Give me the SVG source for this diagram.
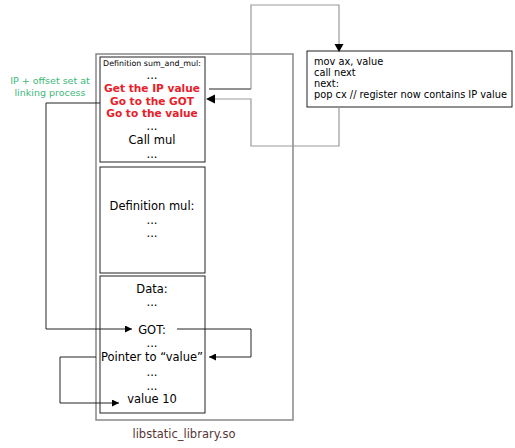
<svg xmlns="http://www.w3.org/2000/svg" width="515" height="448" viewBox="0 0 515 448">
<defs>
<marker id="arr" viewBox="0 0 10 10" refX="10" refY="5" markerWidth="9" markerHeight="7" markerUnits="userSpaceOnUse" orient="auto"><path d="M0,0 L10,5 L0,10 z" fill="#000"/></marker>
</defs>
<style>
text{font-family:"DejaVu Sans",sans-serif;fill:#000}
.box{fill:#fff;stroke:#222;stroke-width:1}
.c{text-anchor:middle;font-size:11.5px}
.red{text-anchor:middle;font-size:10.6px;font-weight:bold;fill:#e8202a}
.code{font-size:9.8px}
.ln{fill:none;stroke:#222;stroke-width:1}
.gl{fill:none;stroke:#999;stroke-width:1.2}
</style>
<rect width="515" height="448" fill="#fff"/>
<g id="library">
<rect x="96" y="54" width="197" height="366" fill="#fff" stroke="#888" stroke-width="1.5"/>
<text x="184" y="438" text-anchor="middle" font-size="11.5" style="fill:#5a3434">libstatic_library.so</text>
</g>
<g id="sum_and_mul">
<rect class="box" x="100" y="57" width="105" height="105"/>
<text x="152" y="66" text-anchor="middle" font-size="7.9">Definition sum_and_mul:</text>
<text x="152" y="79" class="c">...</text>
<text x="152" y="92" class="red">Get the IP value</text>
<text x="152" y="105" class="red">Go to the GOT</text>
<text x="152" y="117" class="red">Go to the value</text>
<text x="152" y="130" class="c">...</text>
<text x="152" y="144" class="c">Call mul</text>
<text x="152" y="158" class="c">...</text>
</g>
<g id="mul">
<rect class="box" x="100" y="167" width="105" height="106"/>
<text x="152" y="210" class="c">Definition mul:</text>
<text x="152" y="224" class="c">...</text>
<text x="152" y="237" class="c">...</text>
</g>
<g id="data">
<rect class="box" x="100" y="276" width="105" height="137"/>
<text x="152" y="293" class="c">Data:</text>
<text x="152" y="306" class="c">...</text>
<text x="152" y="334" class="c">GOT:</text>
<text x="152" y="347" class="c">...</text>
<text x="152" y="361" class="c">Pointer to “value”</text>
<text x="152" y="376" class="c">...</text>
<text x="152" y="390" class="c">...</text>
<text x="152" y="403" class="c">value 10</text>
</g>
<g id="code">
<rect class="box" x="307" y="51" width="205" height="56"/>
<text x="314" y="65" class="code">mov ax, value</text>
<text x="314" y="76" class="code">call next</text>
<text x="314" y="87" class="code">next:</text>
<text x="314" y="98" class="code">pop cx // register now contains IP value</text>
</g>
<g id="note">
<text x="50" y="84" text-anchor="middle" font-size="9.5" style="fill:#3cb878">IP + offset set at</text>
<text x="50" y="96" text-anchor="middle" font-size="9.5" style="fill:#3cb878">linking process</text>
</g>
<g id="connectors">
<path class="ln" d="M209,89 H251"/>
<path class="gl" d="M251,89 V5 H339 V44"/>
<path d="M334.5,44 L343.5,44 L339,52 z" fill="#000"/>
<path class="gl" d="M339,107 V146 H251 V99 H215"/>
<path d="M215,94.5 L215,103.5 L206,99 z" fill="#000"/>
<path class="ln" d="M100,103 H46 V329 H132" marker-end="url(#arr)"/>
<path class="ln" d="M177,329 H251 V357 H209" marker-end="url(#arr)"/>
<path class="ln" d="M96,357 H60 V403 H119" marker-end="url(#arr)"/>
</g>
</svg>
